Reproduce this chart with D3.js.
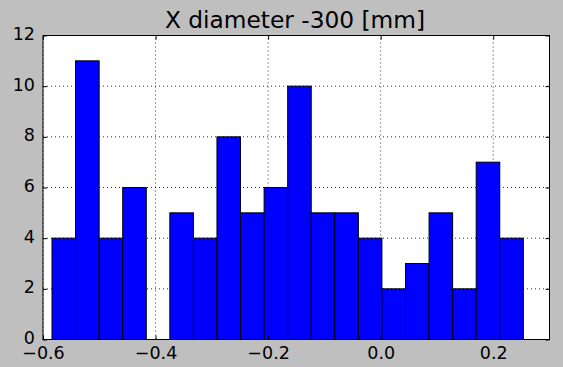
<!DOCTYPE html>
<html lang="en">
<head>
  <meta charset="UTF-8">
  <title>X diameter -300 [mm]</title>
  <script src="https://d3js.org/d3.v7.min.js"></script>
  <style>
    body { margin: 0; background: #bfbfbf; }
    text { font-family: "DejaVu Sans", sans-serif; fill: #000; }
    .grid line { stroke: #000; stroke-dasharray: 1,3; stroke-width: 0.8; }
  </style>
</head>
<body>
  <script>
    const width = 563, height = 367;
    const margin = { top: 35.5, right: 13.5, bottom: 27.5, left: 43 };

    // Histogram data
    const binStart = -0.584;
    const binEnd = 0.2535;
    const counts = [4, 11, 4, 6, 0, 5, 4, 8, 5, 6, 10, 5, 5, 4, 2, 3, 5, 2, 7, 4];
    const xTicks = [-0.6, -0.4, -0.2, 0.0, 0.2];
    const yTicks = [0, 2, 4, 6, 8, 10, 12];
    const title = "X diameter -300 [mm]";

    const binW = (binEnd - binStart) / counts.length;
    const bins = counts.map((c, i) => ({ x0: binStart + i * binW, x1: binStart + (i + 1) * binW, n: c }));

    const svg = d3.select("body").append("svg")
      .attr("width", width)
      .attr("height", height);

    svg.append("rect").attr("width", width).attr("height", height).attr("fill", "#bfbfbf");

    const x = d3.scaleLinear().domain([-0.6, 0.3]).range([margin.left, width - margin.right]);
    const y = d3.scaleLinear().domain([0, 12]).range([height - margin.bottom, margin.top]);

    // plot area
    svg.append("rect")
      .attr("x", x(-0.6)).attr("y", y(12))
      .attr("width", x(0.3) - x(-0.6)).attr("height", y(0) - y(12))
      .attr("fill", "#fff");

    // grid
    const grid = svg.append("g").attr("class", "grid");
    grid.selectAll(".gx").data(xTicks).enter().append("line")
      .attr("x1", d => x(d)).attr("x2", d => x(d))
      .attr("y1", y(0)).attr("y2", y(12));
    grid.selectAll(".gy").data(yTicks).enter().append("line")
      .attr("x1", x(-0.6)).attr("x2", x(0.3))
      .attr("y1", d => y(d)).attr("y2", d => y(d));

    // bars
    svg.append("g").selectAll("rect")
      .data(bins.filter(b => b.n > 0))
      .enter().append("rect")
      .attr("x", d => x(d.x0))
      .attr("y", d => y(d.n))
      .attr("width", d => x(d.x1) - x(d.x0))
      .attr("height", d => y(0) - y(d.n))
      .attr("fill", "#0000ff")
      .attr("stroke", "#000")
      .attr("stroke-width", 1);

    const fmtX = d => d3.format(".1f")(d).replace("-", "\u2212");

    // axes: ticks inward on all sides
    const axBottom = d3.axisBottom(x).tickValues(xTicks).tickSizeInner(-4).tickSizeOuter(0).tickPadding(7).tickFormat(fmtX);
    const axTop = d3.axisTop(x).tickValues(xTicks).tickSizeInner(-4).tickSizeOuter(0).tickFormat("");
    const axLeft = d3.axisLeft(y).tickValues(yTicks).tickSizeInner(-4).tickSizeOuter(0).tickPadding(8).tickFormat(d3.format("d"));
    const axRight = d3.axisRight(y).tickValues(yTicks).tickSizeInner(-4).tickSizeOuter(0).tickFormat("");

    const styleAxis = g => {
      g.select(".domain").remove();
      g.selectAll("line").attr("stroke", "#000");
      g.selectAll("text").style("font-size", "17.5px").style("font-family", "DejaVu Sans, sans-serif").attr("fill", "#1a1a1a");
    };

    svg.append("g").attr("transform", `translate(0,${y(0)})`).call(axBottom).call(styleAxis);
    svg.append("g").attr("transform", `translate(0,${y(12)})`).call(axTop).call(styleAxis);
    svg.append("g").attr("transform", `translate(${x(-0.6)},0)`).call(axLeft).call(styleAxis)
      .selectAll("text").attr("dy", "0.22em");
    svg.append("g").attr("transform", `translate(${x(0.3)},0)`).call(axRight).call(styleAxis);

    // frame
    svg.append("rect")
      .attr("x", x(-0.6)).attr("y", y(12))
      .attr("width", x(0.3) - x(-0.6)).attr("height", y(0) - y(12))
      .attr("fill", "none").attr("stroke", "#000").attr("stroke-width", 1);

    svg.append("text")
      .attr("x", 295)
      .attr("y", 28)
      .attr("text-anchor", "middle")
      .style("font-size", "23.3px")
      .attr("fill", "#1a1a1a")
      .text(title);
  </script>
</body>
</html>
